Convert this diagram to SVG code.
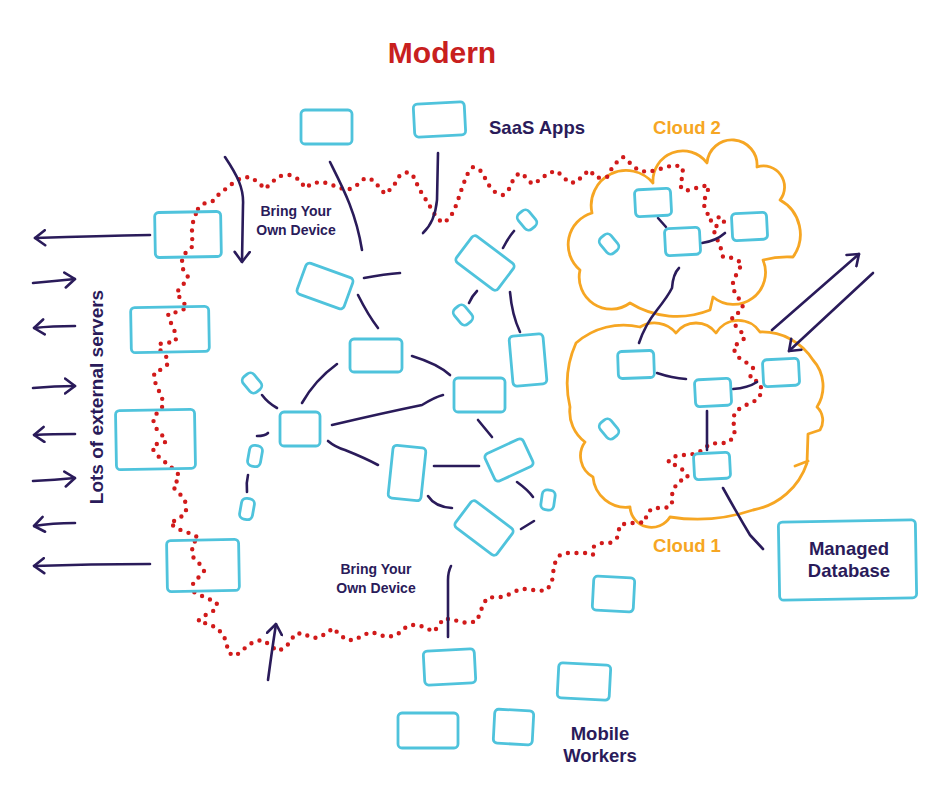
<svg xmlns="http://www.w3.org/2000/svg" width="941" height="791" viewBox="0 0 941 791">
<style>
.b{fill:none;stroke:#4fc3dc;stroke-width:2.8}
.c{fill:none;stroke:#2a1b5a;stroke-width:2.6;stroke-linecap:round;stroke-linejoin:round}
.cl{fill:none;stroke:#f6a623;stroke-width:2.8;stroke-linejoin:round;stroke-linecap:round}
.red{fill:none;stroke:#d11a1a;stroke-width:4.4;stroke-linecap:round;stroke-dasharray:0 8.6}
.t{font-family:"Liberation Sans",Arial,sans-serif;font-weight:bold;fill:#2a1b5a}
.o{font-family:"Liberation Sans",Arial,sans-serif;font-weight:bold;fill:#f6a623}
</style>
<defs>
<marker id="ah" viewBox="0 0 13 18" refX="11.5" refY="9" markerWidth="13" markerHeight="18" markerUnits="userSpaceOnUse" orient="auto">
<path d="M1.5,1.5 L11.5,9 L1.5,16.5" fill="none" stroke="#2a1b5a" stroke-width="2.6" stroke-linecap="round" stroke-linejoin="round"/>
</marker>
</defs>
<rect width="941" height="791" fill="#ffffff"/>

<g id="clouds">
<path id="cloud2" class="cl" d="M592,213 A35,35 0 0 1 653,183 A30,30 0 0 1 707,163 A25,25 0 0 1 757,167 A21,21 0 0 1 780,200 A39,39 0 0 1 793,257 Q778,256 763,260 A32,32 0 0 1 713,297 L710,310 A89,89 0 0 1 630,303 A32,32 0 0 1 580,270 A33,33 0 0 1 592,213 Z"/>
<path id="cloud1" class="cl" d="M576,343 A72,72 0 0 1 640,327 A28,28 0 0 1 676,333 A25,25 0 0 1 716,333 A26,26 0 0 1 760,332 A60,60 0 0 1 813,360 A39,39 0 0 1 817,407 A18.4,18.4 0 0 1 820,430 L808,434 L807,463 A70,70 0 0 1 753,510 A175,175 0 0 1 670,517 A21.6,21.6 0 0 1 630,507 A33,33 0 0 1 593,477 A24,24 0 0 1 585,442 A38,38 0 0 1 570,407 A100,100 0 0 1 576,343 Z M795,466 L808,461"/>
</g>

<g id="boundary">
<polyline class="red" points="198,209 205,203 213,201 220,193 227,188 233,183 241,178 250,177 258,182 265,189 272,182 280,176 290,175 300,180 305,188 313,183 323,182 332,185 340,188 348,190 357,185 365,178 373,180 380,188 385,194 393,187 400,175 408,172 415,178 418,187 423,195 428,203 432,210 437,218 443,223 450,218 455,208 458,200 463,185 468,173 473,167 480,170 485,178 490,187 495,192 503,195 510,188 513,180 519,173 526,177 532,184 540,180 548,173 557,171 563,177 570,183 577,182 583,175 590,170 595,177 601,178 607,177 612,168 617,162 623,157 630,163 638,170 647,172 657,170 666,167 675,165 683,168 682,178 680,186 685,191 693,189 702,186 709,186 707,193 703,203 707,212 710,221 718,217 725,221 713,228 716,237 720,245 723,257 733,258 742,263 738,272 733,280 733,289 738,297 743,307 738,313 732,317 733,323 740,330 745,338 738,343 733,348 738,357 747,363 753,368 750,378 760,383 762,392 757,400 750,403 742,407 735,412 733,420 735,430 733,438 727,443 718,443 710,444 698,453 688,455 680,455 673,457 668,462 675,465 683,470 688,477 678,482 672,492 673,500 670,507 662,508 653,508 647,513 645,522 637,523 628,523 620,525 617,538 610,543 602,543 593,547 593,555 585,553 577,553 568,553 560,555 555,563 553,573 552,582 547,590 538,591 528,589 520,589 512,593 503,597 495,597 487,598 483,605 480,613 477,621 468,623 460,622 452,619 443,619 438,627 433,632 427,628 418,625 410,625 403,629 397,635 387,637 380,635 372,632 363,635 355,640 347,640 340,635 333,628 327,633 318,638 310,637 303,633 295,634 290,642 285,648 277,651 270,645 263,640 256,641 248,645 242,651 235,656 229,653 227,646 224,636 217,628 208,624 198,621 207,614 215,610 217,603 209,599 202,596 194,592 193,583 199,577 204,571 199,563 193,557 192,551 193,543 199,538 192,534 183,531 176,528 170,523 178,519 186,513 186,503 180,494 173,487 177,481 179,475 172,468 166,463 158,456 152,448 158,443 166,442 162,435 155,427 153,419 157,413 163,406 162,397 158,389 155,382 154,373 162,369 168,364 166,356 160,350 159,344 167,343 176,341 175,332 171,323 168,314 177,312 187,308 182,300 176,293 183,285 188,277 183,269 182,260 186,252 193,246 192,237 192,227 194,218 198,209"/>
</g>

<g id="connectors">
<path class="c" d="M150,235 Q100,236 35,238" marker-end="url(#ah)"/>
<path class="c" d="M33,283 Q55,281 75,279" marker-end="url(#ah)"/>
<path class="c" d="M75,326 Q52,326 34,328" marker-end="url(#ah)"/>
<path class="c" d="M33,388 Q55,386 75,386" marker-end="url(#ah)"/>
<path class="c" d="M75,434 Q52,434 34,435" marker-end="url(#ah)"/>
<path class="c" d="M33,481 Q55,480 75,478" marker-end="url(#ah)"/>
<path class="c" d="M75,523 Q52,523 34,526" marker-end="url(#ah)"/>
<path class="c" d="M150,564 Q90,564 34,566" marker-end="url(#ah)"/>
<path class="c" d="M225,157 C237,175 244,188 243,205 L242,262" marker-end="url(#ah)"/>
<path class="c" d="M268,680 Q272,650 276,624" marker-end="url(#ah)"/>
<path class="c" d="M330,162 C342,186 356,212 362,250"/>
<path class="c" d="M438,153 L437,200 Q435,222 423,233"/>
<path class="c" d="M364,278 Q385,274 400,273"/>
<path class="c" d="M358,295 Q368,315 378,328"/>
<path class="c" d="M412,356 Q438,364 450,375"/>
<path class="c" d="M337,364 Q315,380 302,403"/>
<path class="c" d="M332,425 Q383,413 422,405 Q435,397 443,395"/>
<path class="c" d="M503,248 Q508,238 514,231"/>
<path class="c" d="M469,303 Q472,296 477,291"/>
<path class="c" d="M510,292 Q512,315 520,332"/>
<path class="c" d="M478,420 L492,437"/>
<path class="c" d="M328,441 Q335,447 345,450 Q365,458 378,465"/>
<path class="c" d="M434,466 L479,466"/>
<path class="c" d="M428,496 Q435,507 452,508"/>
<path class="c" d="M517,482 Q528,490 533,497"/>
<path class="c" d="M521,529 L534,521"/>
<path class="c" d="M262,395 Q268,403 277,408"/>
<path class="c" d="M257,436 Q265,436 268,433"/>
<path class="c" d="M248,475 Q246,483 247,492"/>
<path class="c" d="M451,566 Q448,572 448,580 L448,637"/>
<path class="c" d="M658,218 L666,227"/>
<path class="c" d="M702,243 Q716,241 725,233"/>
<path class="c" d="M679,268 Q673,274 672,288 Q668,296 657,310 Q645,325 639,343"/>
<path class="c" d="M657,373 Q672,378 686,379"/>
<path class="c" d="M733,389 Q748,388 757,382"/>
<path class="c" d="M707,411 L707,450"/>
<path class="c" d="M772,330 L859,254" marker-end="url(#ah)"/>
<path class="c" d="M873,273 L789,351" marker-end="url(#ah)"/>
<path class="c" d="M723,488 Q738,515 750,535 L763,549"/>
</g>

<g id="n1"><rect class="b" x="301" y="110" width="51" height="34" rx="4"/></g>
<g id="n2"><rect class="b" x="414" y="103" width="51" height="33" rx="4" transform="rotate(-3 439 120)"/></g>
<g id="n3"><rect class="b" x="155" y="212" width="66" height="45" rx="4" transform="rotate(-1 188 235)"/></g>
<g id="n4"><rect class="b" x="131" y="307" width="78" height="45" rx="4" transform="rotate(-1 170 330)"/></g>
<g id="n5"><rect class="b" x="116" y="410" width="79" height="59" rx="4" transform="rotate(-1 155 440)"/></g>
<g id="n6"><rect class="b" x="167" y="540" width="72" height="51" rx="4" transform="rotate(-1 203 566)"/></g>
<g id="n7"><rect class="b" x="300" y="269.5" width="50" height="33" rx="4" transform="rotate(20 325 286)"/></g>
<g id="n8"><rect class="b" x="350" y="339" width="52" height="33" rx="4"/></g>
<g id="n9"><rect class="b" x="454" y="378" width="51" height="34" rx="4"/></g>
<g id="n10"><rect class="b" x="459" y="246.5" width="52" height="33" rx="4" transform="rotate(37 485 263)"/></g>
<g id="n11"><rect class="b" x="520" y="210" width="14" height="20" rx="5" transform="rotate(-40 527 220)"/></g>
<g id="n12"><rect class="b" x="456" y="305" width="14" height="20" rx="5" transform="rotate(-40 463 315)"/></g>
<g id="n13"><rect class="b" x="511" y="335" width="34" height="50" rx="4" transform="rotate(-5 528 360)"/></g>
<g id="n14"><rect class="b" x="280" y="412" width="40" height="34" rx="4"/></g>
<g id="n15"><rect class="b" x="245" y="373" width="14" height="20" rx="5" transform="rotate(-40 252 383)"/></g>
<g id="n16"><rect class="b" x="248.5" y="445.5" width="13" height="21" rx="5" transform="rotate(10 255 456)"/></g>
<g id="n17"><rect class="b" x="240.5" y="498.5" width="13" height="21" rx="5" transform="rotate(10 247 509)"/></g>
<g id="n18"><rect class="b" x="390.5" y="446.5" width="33" height="53" rx="4" transform="rotate(6 407 473)"/></g>
<g id="n19"><rect class="b" x="488" y="445" width="42" height="30" rx="4" transform="rotate(-25 509 460)"/></g>
<g id="n20"><rect class="b" x="458" y="511.5" width="52" height="33" rx="4" transform="rotate(37 484 528)"/></g>
<g id="n21"><rect class="b" x="541.5" y="490" width="13" height="20" rx="5" transform="rotate(8 548 500)"/></g>
<g id="n22"><rect class="b" x="424" y="650" width="51" height="34" rx="4" transform="rotate(-3 449 667)"/></g>
<g id="n23"><rect class="b" x="398" y="713" width="60" height="35" rx="4"/></g>
<g id="n24"><rect class="b" x="494" y="710" width="39" height="34" rx="4" transform="rotate(3 513 727)"/></g>
<g id="n25"><rect class="b" x="558" y="664" width="52" height="35" rx="4" transform="rotate(3 584 681)"/></g>
<g id="n26"><rect class="b" x="593" y="577" width="41" height="34" rx="4" transform="rotate(3 613 594)"/></g>
<g id="n27"><rect class="b" x="779" y="521" width="137" height="78" rx="4" transform="rotate(-1 847 560)"/>
<text class="t" x="849" y="555" font-size="18.5" text-anchor="middle">Managed</text>
<text class="t" x="849" y="577" font-size="18.5" text-anchor="middle">Database</text></g>
<g id="n28"><rect class="b" x="635" y="189" width="36" height="27" rx="4" transform="rotate(-3 653 202)"/></g>
<g id="n29"><rect class="b" x="665" y="228" width="35" height="27" rx="4" transform="rotate(-3 682 241)"/></g>
<g id="n30"><rect class="b" x="732" y="213" width="35" height="27" rx="4" transform="rotate(-3 749 226)"/></g>
<g id="n31"><rect class="b" x="602" y="234" width="14" height="20" rx="5" transform="rotate(-40 609 244)"/></g>
<g id="n32"><rect class="b" x="618" y="351" width="36" height="27" rx="4" transform="rotate(-2 636 364)"/></g>
<g id="n33"><rect class="b" x="695" y="379" width="36" height="27" rx="4" transform="rotate(-3 713 392)"/></g>
<g id="n34"><rect class="b" x="763" y="359" width="36" height="27" rx="4" transform="rotate(-3 781 372)"/></g>
<g id="n35"><rect class="b" x="602" y="419" width="14" height="20" rx="5" transform="rotate(-40 609 429)"/></g>
<g id="n36"><rect class="b" x="694" y="453" width="36" height="26" rx="4" transform="rotate(-3 712 466)"/></g>

<g id="labels">
<text x="442" y="63" font-family="Liberation Sans,Arial,sans-serif" font-weight="bold" font-size="30" fill="#c8201e" text-anchor="middle">Modern</text>
<text class="t" x="537" y="134" font-size="18.5" text-anchor="middle">SaaS Apps</text>
<text class="o" x="687" y="134" font-size="18.5" text-anchor="middle">Cloud 2</text>
<text class="o" x="687" y="552" font-size="18.5" text-anchor="middle">Cloud 1</text>
<text class="t" x="296" y="216" font-size="14" text-anchor="middle">Bring Your</text>
<text class="t" x="296" y="235" font-size="14" text-anchor="middle">Own Device</text>
<text class="t" x="376" y="574" font-size="14" text-anchor="middle">Bring Your</text>
<text class="t" x="376" y="593" font-size="14" text-anchor="middle">Own Device</text>
<text class="t" x="103" y="397" font-size="19" text-anchor="middle" transform="rotate(-90 103 397)">Lots of external servers</text>
<text class="t" x="600" y="740" font-size="18.5" text-anchor="middle">Mobile</text>
<text class="t" x="600" y="762" font-size="18.5" text-anchor="middle">Workers</text>
</g>
</svg>
